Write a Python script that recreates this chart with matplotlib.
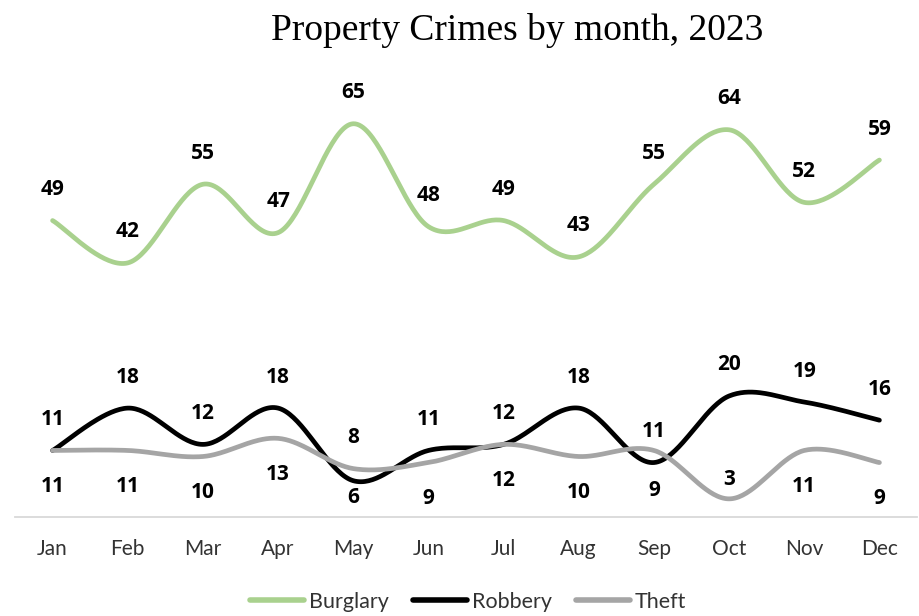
import numpy as np
import matplotlib
matplotlib.use('Agg')
import matplotlib.pyplot as plt

months = ['Jan', 'Feb', 'Mar', 'Apr', 'May', 'Jun', 'Jul', 'Aug', 'Sep', 'Oct', 'Nov', 'Dec']
burglary = [49, 42, 55, 47, 65, 48, 49, 43, 55, 64, 52, 59]
robbery = [11, 18, 12, 18, 6, 11, 12, 18, 9, 20, 19, 16]
theft = [11, 11, 10, 13, 8, 9, 12, 10, 11, 3, 11, 9]

GREEN = '#A9D18E'
BLACK = '#000000'
GREY = '#A5A5A5'
TEXT_FONT = 'Lato'
BOLD_FONT = 'Open Sans'

# label placement (pixels): default above / below offsets, plus a few manual moves
UP_PX = 31
DOWN_PX = -36
label_override = {('Robbery', 4): -17, ('Robbery', 8): -28,
                  ('Theft', 8): 19, ('Theft', 9): 19}


def smooth(x, y, n=40):
    pts = np.column_stack([x, y]).astype(float)
    P = np.vstack([pts[0], pts, pts[-1]])
    out = []
    t = np.linspace(0, 1, n)[:, None]
    for i in range(1, len(P) - 2):
        p0, p1, p2, p3 = P[i - 1], P[i], P[i + 1], P[i + 2]
        c1 = p1 + (p2 - p0) / 6
        c2 = p2 - (p3 - p1) / 6
        seg = (1 - t) ** 3 * p1 + 3 * (1 - t) ** 2 * t * c1 + 3 * (1 - t) * t ** 2 * c2 + t ** 3 * p2
        out.append(seg if i == 1 else seg[1:])
    return np.vstack(out)


fig = plt.figure(figsize=(9.2, 6.16), dpi=100)
ax = fig.add_axes([15 / 920, (616 - 517) / 616, 902 / 920, (517 - 93.5) / 616])

x = np.arange(len(months))
series = [('Burglary', burglary, GREEN), ('Robbery', robbery, BLACK), ('Theft', theft, GREY)]
for name, vals, col in series:
    s = smooth(x, vals)
    ax.plot(s[:, 0], s[:, 1], color=col, lw=3.4, solid_capstyle='round', label=name, zorder=3)

ax.set_xlim(-0.5, len(months) - 0.5)
ax.set_ylim(0, 70)

lab_kw = dict(ha='center', va='center', fontsize=15, fontweight='bold',
              family=BOLD_FONT, color='black', textcoords='offset pixels', zorder=5)


def put(name, i, v, default):
    off = label_override.get((name, i), default)
    ax.annotate(str(v), (i, v), xytext=(0, off), **lab_kw)


for i, v in enumerate(burglary):
    put('Burglary', i, v, UP_PX)
for i, (r, t_) in enumerate(zip(robbery, theft)):
    if r >= t_:
        put('Robbery', i, r, UP_PX)
        put('Theft', i, t_, DOWN_PX)
    else:
        put('Theft', i, t_, UP_PX)
        put('Robbery', i, r, DOWN_PX)

for sp in ['top', 'left', 'right']:
    ax.spines[sp].set_visible(False)
ax.spines['bottom'].set_color('#D9D9D9')
ax.spines['bottom'].set_linewidth(1.3)
ax.set_yticks([])
ax.set_xticks(x)
ax.set_xticklabels(months, fontsize=15, family=TEXT_FONT, color='#333333')
ax.tick_params(axis='x', length=0, pad=16)

fig.text(0.562, 0.950, 'Property Crimes by month, 2023', ha='center', va='center',
         fontsize=27, family='Liberation Serif', color='black')

leg = fig.legend(loc='center', bbox_to_anchor=(0.509, 0.023), ncol=3, frameon=False,
                 prop={'family': TEXT_FONT, 'size': 15.5}, handlelength=2.5,
                 handletextpad=0.25, columnspacing=1.1)
for h in leg.get_lines():
    h.set_linewidth(4)
for t in leg.get_texts():
    t.set_color('#333333')

fig.savefig('out.png', dpi=100)
